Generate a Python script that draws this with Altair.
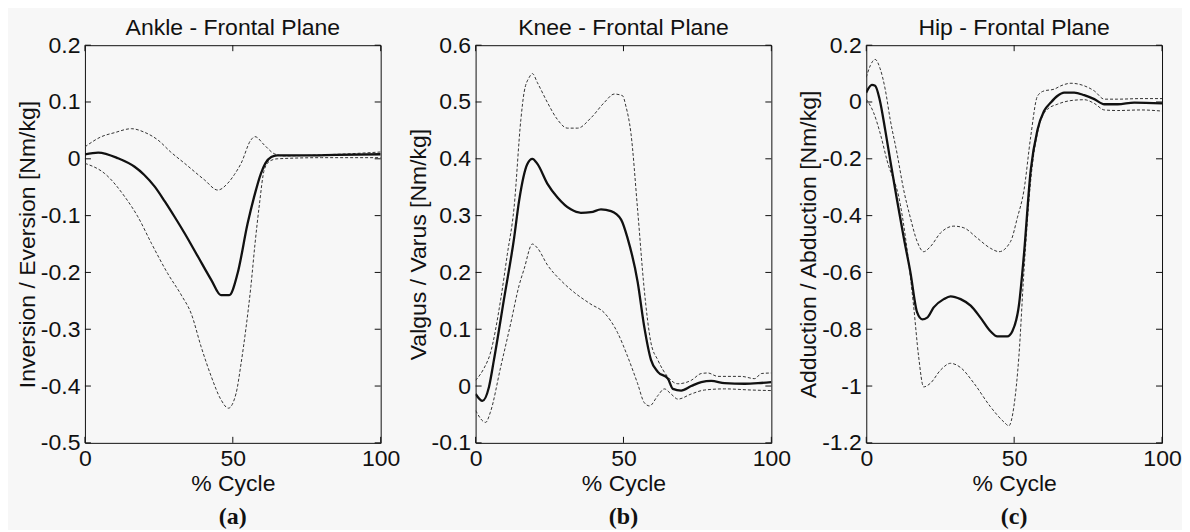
import altair as alt
import pandas as pd

# ---------------- data ----------------
ankle_mean_x = [0, 4.5, 11.2, 16.8, 20, 23.6, 27, 30.3, 33.7, 38.2, 42.7, 46, 48.8, 51.6, 55, 57.2, 59.5, 61, 63, 65, 75, 85, 100]
ankle_mean_y = [0.008, 0.011, 0.001, -0.014, -0.028, -0.049, -0.075, -0.102, -0.131, -0.172, -0.213, -0.240, -0.240, -0.202, -0.114, -0.067, -0.026, -0.008, 0.003, 0.006, 0.006, 0.007, 0.008]
ankle_up_x = [0, 5.6, 10, 15.7, 20, 24.7, 29, 33.7, 40.4, 44.9, 48.3, 50.5, 52.8, 56.1, 57.5, 60.7, 64, 67.4, 80, 90, 100]
ankle_up_y = [0.021, 0.039, 0.046, 0.053, 0.047, 0.033, 0.012, -0.008, -0.037, -0.055, -0.043, -0.028, -0.008, 0.033, 0.039, 0.024, 0.009, 0.005, 0.007, 0.009, 0.012]
ankle_lo_x = [0, 6.7, 13.5, 17.9, 22.5, 28, 32.6, 35.9, 39.3, 42.7, 46, 48.5, 51.1, 52.8, 54.4, 56.1, 57.5, 59, 60.6, 62.5, 65, 80, 100]
ankle_lo_y = [-0.008, -0.026, -0.067, -0.102, -0.149, -0.202, -0.240, -0.272, -0.331, -0.383, -0.424, -0.439, -0.413, -0.360, -0.300, -0.225, -0.150, -0.080, -0.020, -0.004, 0.000, 0.002, 0.002]

knee_mean_x = [0, 2.3, 4.5, 6.2, 9.6, 13, 14.7, 17.5, 19.2, 20.9, 24.3, 27.7, 32.2, 35.6, 39, 42.4, 45.8, 49.2, 51.4, 54.8, 57, 59.3, 61.6, 65, 66.7, 69.5, 72.9, 76.3, 79.7, 84.2, 91, 95.5, 100]
knee_mean_y = [-0.014, -0.026, -0.002, 0.046, 0.153, 0.260, 0.326, 0.391, 0.400, 0.391, 0.356, 0.332, 0.311, 0.305, 0.306, 0.311, 0.308, 0.293, 0.260, 0.183, 0.105, 0.046, 0.025, 0.013, -0.005, -0.008, 0.000, 0.007, 0.009, 0.005, 0.004, 0.005, 0.007]
knee_up_x = [0, 2.8, 5, 8.5, 10.7, 13, 15.3, 16.4, 18.1, 19.2, 20.9, 24.3, 27.7, 31, 34.5, 39, 43.5, 46.9, 49.7, 50.8, 52.5, 54.8, 57, 59.3, 61.6, 65, 68.4, 72.9, 76.3, 78.5, 81.9, 89.8, 94.4, 96.6, 100]
knee_up_y = [0.010, 0.031, 0.058, 0.153, 0.231, 0.314, 0.469, 0.517, 0.543, 0.550, 0.534, 0.499, 0.469, 0.454, 0.454, 0.472, 0.499, 0.514, 0.511, 0.493, 0.446, 0.309, 0.171, 0.076, 0.046, 0.016, 0.004, 0.010, 0.022, 0.023, 0.017, 0.017, 0.013, 0.022, 0.023]
knee_lo_x = [0, 3.4, 5, 8.5, 11.9, 14.7, 16.4, 19.2, 20.9, 24.3, 28.8, 33.3, 39, 43.5, 48, 51.4, 54.8, 57, 58.8, 61.6, 63.8, 66.1, 68.4, 72.9, 77.4, 84.2, 93.2, 100]
knee_lo_y = [-0.043, -0.064, -0.046, 0.034, 0.111, 0.177, 0.206, 0.250, 0.243, 0.213, 0.186, 0.165, 0.144, 0.129, 0.094, 0.052, 0.004, -0.029, -0.035, -0.017, -0.005, -0.014, -0.023, -0.014, -0.007, -0.005, -0.007, -0.008]

hip_mean_x = [0, 1.9, 3, 4.5, 6.4, 8.1, 10.4, 12.7, 14.9, 17.2, 18.9, 20.6, 22.8, 26.2, 28.5, 31.9, 35.3, 38.6, 42, 44.3, 47.7, 49.4, 51.6, 53.3, 55.6, 57.9, 60.1, 62.4, 64.6, 66.9, 70.3, 73.7, 77.1, 80.5, 85, 90.6, 100]
hip_mean_y = [0.033, 0.060, 0.057, 0.010, -0.098, -0.205, -0.345, -0.479, -0.598, -0.741, -0.765, -0.759, -0.723, -0.694, -0.684, -0.694, -0.717, -0.759, -0.807, -0.825, -0.825, -0.807, -0.717, -0.539, -0.241, -0.098, -0.032, -0.002, 0.021, 0.033, 0.033, 0.024, 0.010, -0.008, -0.008, -0.002, -0.005]
hip_up_x = [0, 1.4, 3, 4.7, 6.4, 8.1, 10.4, 12.7, 14.9, 17.2, 19.4, 21.7, 25.1, 29.6, 33, 37.5, 42, 44.9, 48.8, 51.1, 53.3, 55.6, 57.9, 60.1, 63.5, 65.8, 69.2, 73.7, 77.1, 80.5, 85, 92.9, 100]
hip_up_y = [0.087, 0.129, 0.150, 0.117, 0.045, -0.062, -0.181, -0.312, -0.407, -0.491, -0.527, -0.509, -0.461, -0.437, -0.443, -0.479, -0.515, -0.527, -0.491, -0.407, -0.312, -0.122, 0.021, 0.039, 0.045, 0.057, 0.066, 0.057, 0.039, 0.010, 0.010, 0.012, 0.012]
hip_lo_x = [0, 2.5, 4.7, 7, 11.5, 16, 17.7, 19.4, 21.7, 25.1, 28.5, 31.9, 36.4, 42, 46.6, 48.2, 49.9, 51.6, 53.3, 55.6, 58.4, 61.2, 64.6, 69.2, 73.7, 77.1, 80.5, 85, 92.9, 100]
hip_lo_y = [0.010, -0.038, -0.110, -0.205, -0.360, -0.717, -0.896, -1.003, -0.990, -0.944, -0.920, -0.935, -0.990, -1.073, -1.127, -1.140, -1.073, -0.896, -0.598, -0.276, -0.086, -0.026, -0.008, 0.005, 0.008, -0.005, -0.028, -0.030, -0.028, -0.032]

x_ticks = [0, 50, 100]
ankle_ticks = [0.2, 0.1, 0, -0.1, -0.2, -0.3, -0.4, -0.5]
knee_ticks = [0.6, 0.5, 0.4, 0.3, 0.2, 0.1, 0, -0.1]
hip_ticks = [0.2, 0, -0.2, -0.4, -0.6, -0.8, -1, -1.2]

# ---------------- styling ----------------
W, H = 296, 398
FONT = "Liberation Sans"
INK = "#111111"
BG = "#f7f7f7"
FS = 23
TICK = 6

LABEL_EXPR = "replace(format(datum.value, '~g'), '\u2212', '-')"


def panel(title, ytitle, caption, ydomain, yticks, mx, my, ux, uy, lx, ly):
    xs = alt.Scale(domain=[0, 100], nice=False, zero=False)
    ys = alt.Scale(domain=ydomain, nice=False, zero=False)
    xaxis = alt.Axis(values=x_ticks, labelExpr=LABEL_EXPR, labelFlush=False, labelOverlap=False,
                     ticks=False, tickSize=0, domain=False, grid=False,
                     labelFont=FONT, labelFontSize=FS, labelColor=INK, labelPadding=5,
                     title="% Cycle", titleFont=FONT, titleFontSize=FS, titleFontWeight="normal",
                     titleColor=INK, titlePadding=2)
    yaxis = alt.Axis(values=yticks, labelExpr=LABEL_EXPR, labelFlush=False, labelOverlap=False,
                     ticks=False, tickSize=0, domain=False, grid=False,
                     labelFont=FONT, labelFontSize=FS, labelColor=INK, labelPadding=5,
                     title=ytitle, titleFont=FONT, titleFontSize=FS, titleFontWeight="normal",
                     titleColor=INK, titlePadding=1)
    X = lambda: alt.X("x:Q", scale=xs, axis=xaxis)
    Y = lambda: alt.Y("y:Q", scale=ys, axis=yaxis)

    mean = alt.Chart(pd.DataFrame({"x": mx, "y": my})).mark_line(
        color=INK, strokeWidth=2.3, interpolate="monotone", clip=True).encode(x=X(), y=Y())
    up = alt.Chart(pd.DataFrame({"x": ux, "y": uy})).mark_line(
        color="#333333", strokeWidth=1, strokeDash=[3, 2], interpolate="monotone", clip=True).encode(x=X(), y=Y())
    lo = alt.Chart(pd.DataFrame({"x": lx, "y": ly})).mark_line(
        color="#333333", strokeWidth=1, strokeDash=[3, 2], interpolate="monotone", clip=True).encode(x=X(), y=Y())

    ydf = pd.DataFrame({"y": yticks})
    xdf = pd.DataFrame({"x": x_ticks})
    rule = dict(color=INK, strokeWidth=1)
    yt_left = alt.Chart(ydf).mark_rule(**rule).encode(y=Y(), x=alt.value(0), x2=alt.value(TICK))
    yt_right = alt.Chart(ydf).mark_rule(**rule).encode(y=Y(), x=alt.value(W - TICK), x2=alt.value(W))
    xt_bot = alt.Chart(xdf).mark_rule(**rule).encode(x=X(), y=alt.value(H - TICK), y2=alt.value(H))
    xt_top = alt.Chart(xdf).mark_rule(**rule).encode(x=X(), y=alt.value(0), y2=alt.value(TICK))

    cap = alt.Chart(pd.DataFrame({"t": [caption]})).mark_text(
        font="Liberation Serif", fontSize=24, fontWeight="bold", color=INK, baseline="middle", align="center"
    ).encode(text="t:N", x=alt.value(W / 2), y=alt.value(H + 74))

    return alt.layer(yt_left, yt_right, xt_bot, xt_top, up, lo, mean, cap).properties(
        width=W, height=H,
        title=alt.TitleParams(text=title, font=FONT, fontSize=FS, fontWeight="normal", color=INK,
                              anchor="middle", baseline="alphabetic", offset=-24),
    )


p1 = panel("Ankle - Frontal Plane", "Inversion / Eversion [Nm/kg]", "(a)", [-0.5, 0.2], ankle_ticks,
           ankle_mean_x, ankle_mean_y, ankle_up_x, ankle_up_y, ankle_lo_x, ankle_lo_y)
p2 = panel("Knee - Frontal Plane", "Valgus / Varus [Nm/kg]", "(b)", [-0.1, 0.6], knee_ticks,
           knee_mean_x, knee_mean_y, knee_up_x, knee_up_y, knee_lo_x, knee_lo_y)
p3 = panel("Hip - Frontal Plane", "Adduction / Abduction [Nm/kg]", "(c)", [-1.2, 0.2], hip_ticks,
           hip_mean_x, hip_mean_y, hip_up_x, hip_up_y, hip_lo_x, hip_lo_y)

chart = alt.hconcat(p1, p2, p3, spacing=95, bounds="flush").properties(
    background=BG,
    padding={"left": 7, "top": 8, "right": 0, "bottom": 0},
).configure_view(stroke=INK, strokeWidth=1, fill=BG)

chart.save("out.html", embed_options={"renderer": "svg", "actions": False})
